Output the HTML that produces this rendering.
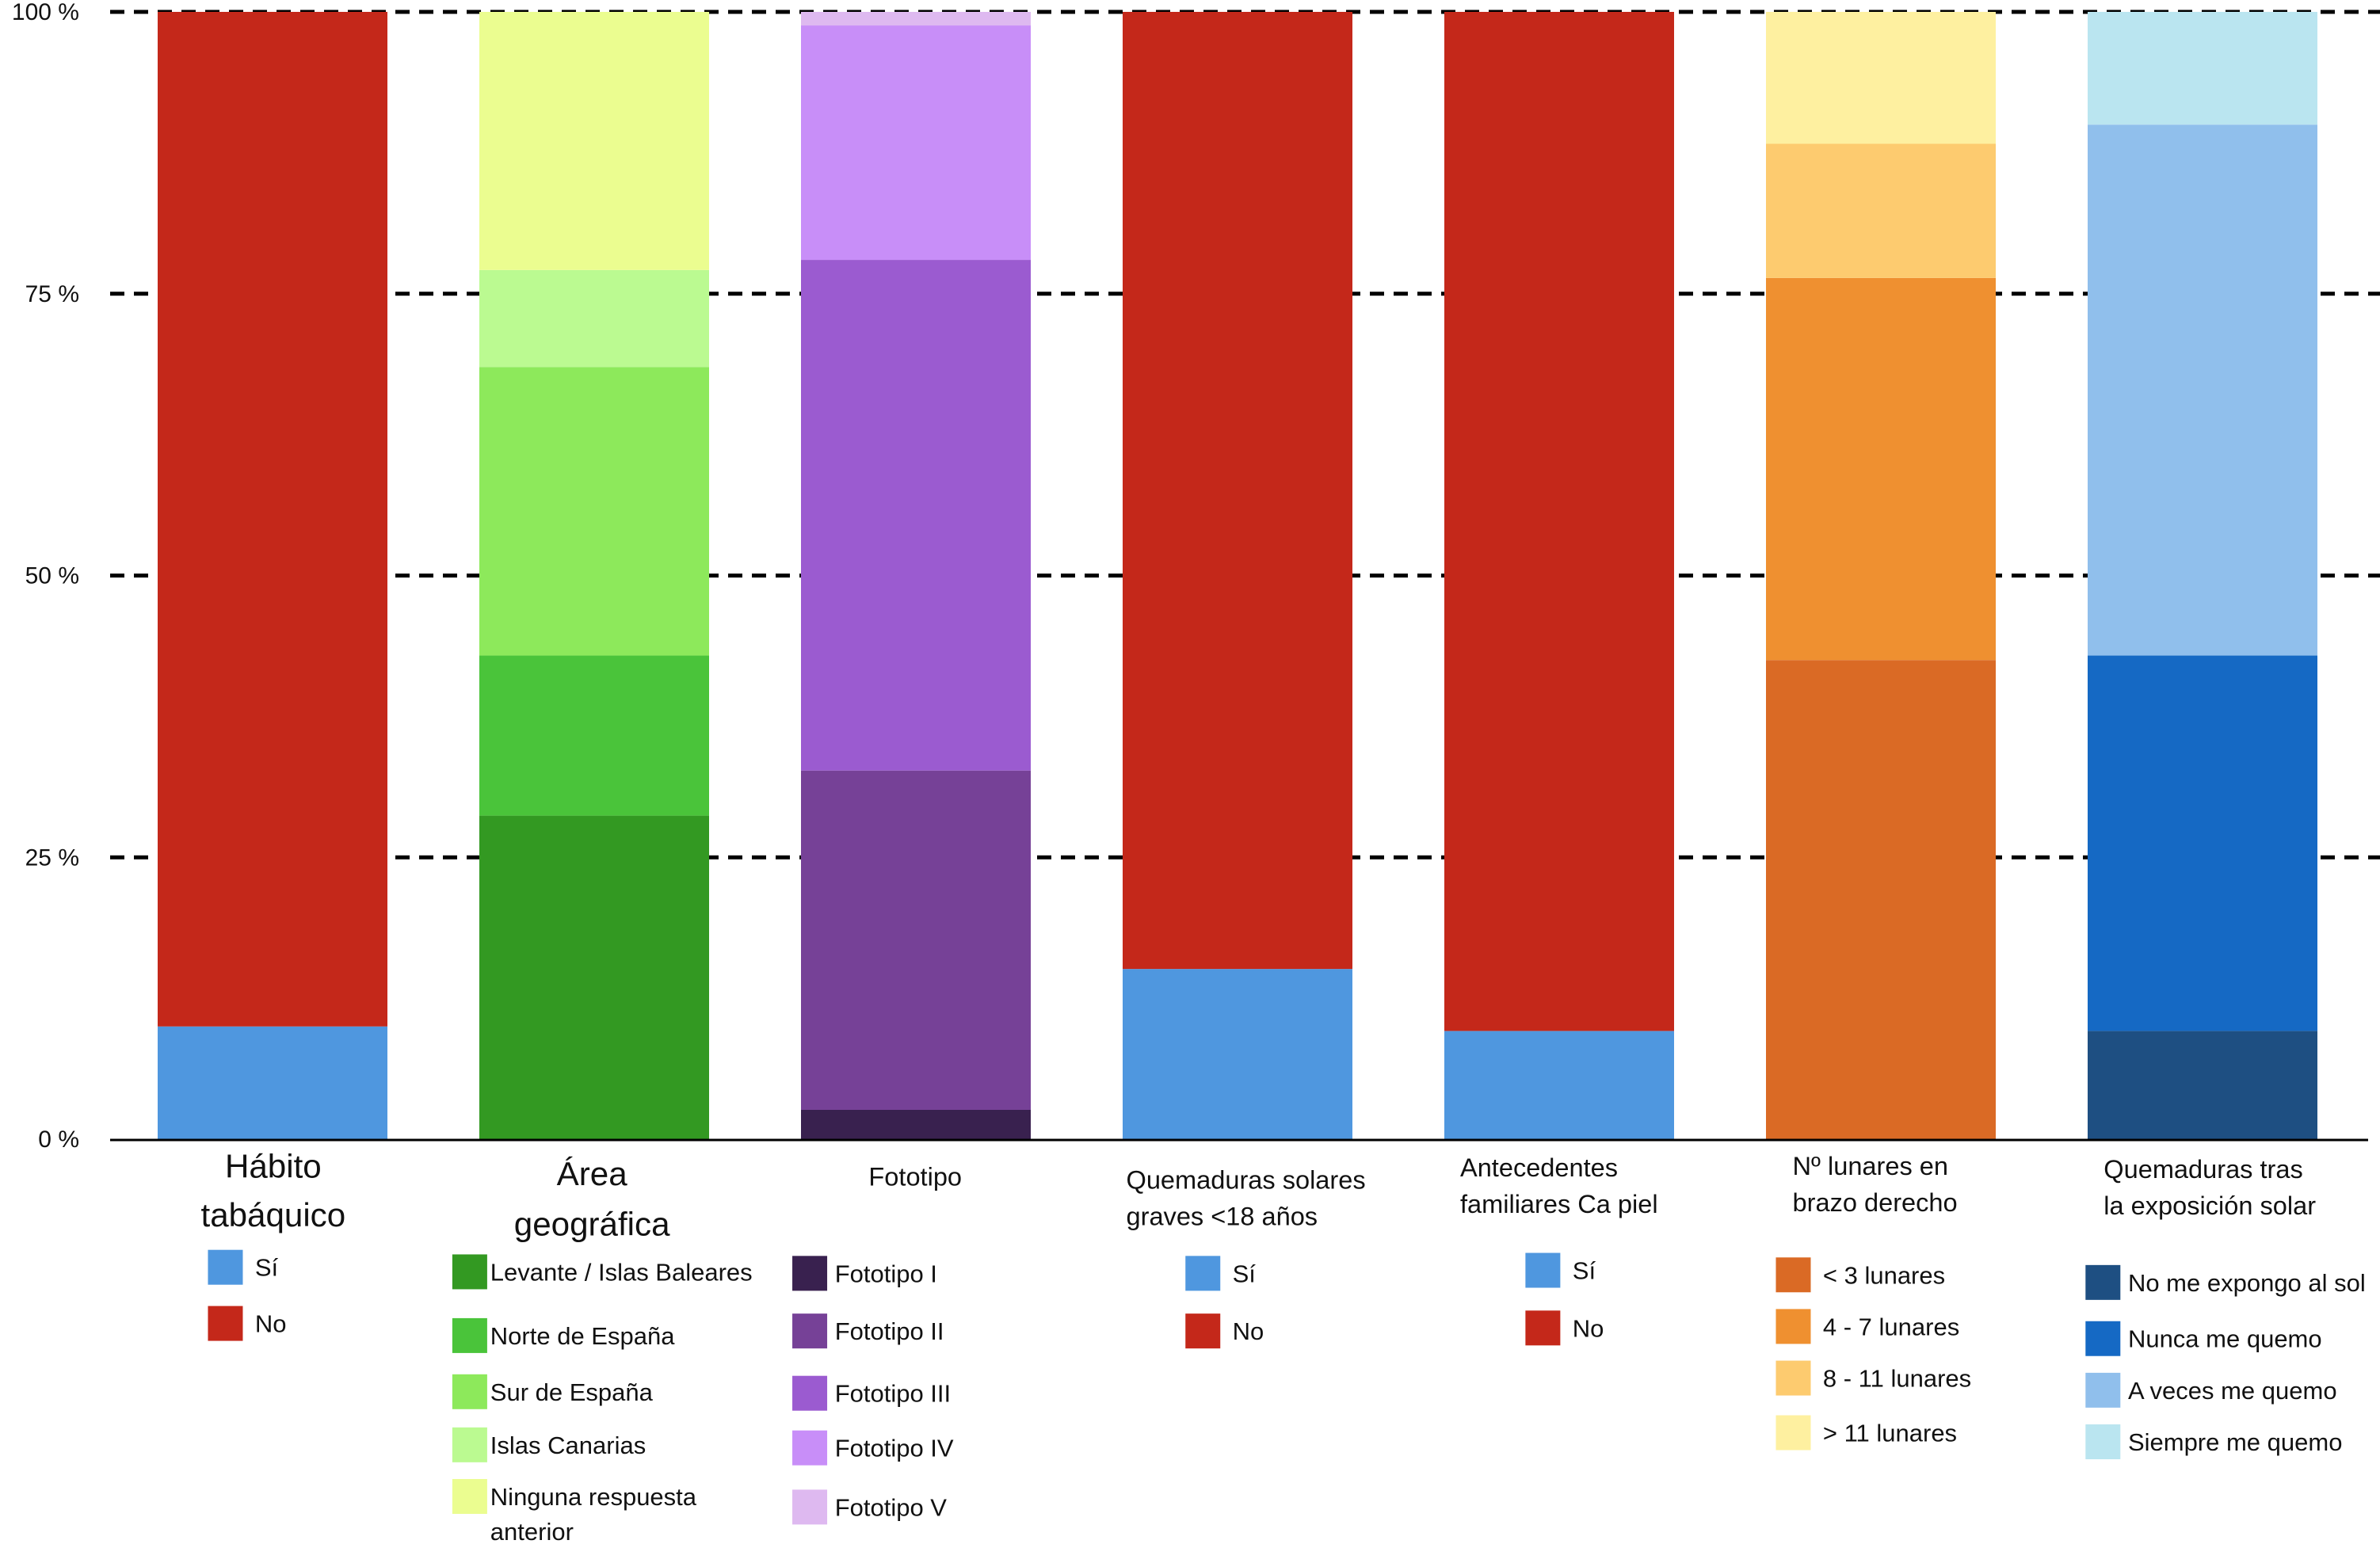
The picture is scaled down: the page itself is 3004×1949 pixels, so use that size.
<!DOCTYPE html>
<html><head><meta charset="utf-8"><style>
html,body{margin:0;padding:0;background:#fff;}
svg{display:block;}
text{font-family:"Liberation Sans Narrow","Liberation Sans",sans-serif;fill:#111;}
</style></head><body>
<svg id="chart" width="3004" height="1949" viewBox="0 0 3004 1949" xmlns="http://www.w3.org/2000/svg"></svg>
<script>
const categories = ["Hábito tabáquico","Área geográfica","Fototipo","Quemaduras solares graves <18 años","Antecedentes familiares Ca piel","Nº lunares en brazo derecho","Quemaduras tras la exposición solar"];
const seriesNames = [
  ["Sí","No"],
  ["Levante / Islas Baleares","Norte de España","Sur de España","Islas Canarias","Ninguna respuesta anterior"],
  ["Fototipo I","Fototipo II","Fototipo III","Fototipo IV","Fototipo V"],
  ["Sí","No"],
  ["Sí","No"],
  ["< 3 lunares","4 - 7 lunares","8 - 11 lunares","> 11 lunares"],
  ["No me expongo al sol","Nunca me quemo","A veces me quemo","Siempre me quemo"]
];
const seriesValues = [
  [10.0,90.0],
  [28.7,14.2,25.6,8.6,22.9],
  [2.6,30.1,45.3,20.8,1.2],
  [15.1,84.9],
  [9.6,90.4],
  [42.5,33.9,11.9,11.7],
  [9.6,33.3,47.1,10.0]
];
const seriesColors = [
  ["#4F97DF","#C4281A"],
  ["#339922","#4AC43A","#8DE95B","#BBFA91","#EBFD90"],
  ["#39214F","#764197","#9B5BD0","#C88EF8","#DEB9F0"],
  ["#4F97DF","#C4281A"],
  ["#4F97DF","#C4281A"],
  ["#DA6A25","#EF9030","#FDCB6F","#FEF0A0"],
  ["#1E4F82","#1569C4","#90BFEC","#BAE5F0"]
];
const yTicks = [0,25,50,75,100];
const yTickLabels = ["0 %","25 %","50 %","75 %","100 %"];

const NS="http://www.w3.org/2000/svg";
const svg=document.getElementById('chart');
const S=1.9158;
const Y0=1438, Y100=15, X0=139, X1=2989;
const y=v=>Y0-(Y0-Y100)*v/100;
const barX=i=>199+406*i;
const BW=290;
function mk(tag,attrs,parent){const e=document.createElementNS(NS,tag);for(const k in attrs)e.setAttribute(k,attrs[k]);(parent||svg).appendChild(e);return e;}

// gridlines
yTicks.forEach((t,i)=>{
  if(t>0){
    const l=mk('line',{x1:X0,x2:3004,y1:y(t),y2:y(t),stroke:'#000','stroke-width':5,'stroke-dasharray':'18 12'});
    
    
  }
  const tx=mk('text',{x:100,y:y(t)+10,'text-anchor':'end','font-size':30,'font-family':'Liberation Sans, sans-serif'});
  tx.textContent=yTickLabels[i];
  
  
});

// bars
seriesValues.forEach((vals,i)=>{
  let cum=0;
  vals.forEach((v,j)=>{
    const r=mk('rect',{x:barX(i),y:y(cum+v),width:BW,height:y(cum)-y(cum+v),fill:seriesColors[i][j]});
    
    
    cum+=v;
  });
});
const ax=mk('line',{x1:X0,x2:X1,y1:Y0+1,y2:Y0+1,stroke:'#000','stroke-width':3});



// category labels (display coords scaled by S)
const catLayout=[
  {x:180,anchor:'middle',ys:[768,800],fs:22,lines:["Hábito","tabáquico"],wide:true},
  {x:390,anchor:'middle',ys:[773,806],fs:22,lines:["Área","geográfica"],wide:true},
  {x:603,anchor:'middle',ys:[775],fs:17,lines:["Fototipo"]},
  {x:742,anchor:'start',ys:[777,801],fs:17,lines:["Quemaduras solares","graves <18 años"]},
  {x:962,anchor:'start',ys:[769,793],fs:17,lines:["Antecedentes","familiares Ca piel"]},
  {x:1181,anchor:'start',ys:[768,792],fs:17,lines:["Nº lunares en","brazo derecho"]},
  {x:1386,anchor:'start',ys:[770,794],fs:17,lines:["Quemaduras tras","la exposición solar"]}
];
catLayout.forEach((c,i)=>{
  c.lines.forEach((ln,k)=>{
    const t=mk('text',{x:c.x*S,y:c.ys[k]*S+c.fs*S*0.36,'text-anchor':c.anchor,'font-size':c.fs*S});
    if(c.wide)t.setAttribute('font-family','Liberation Sans, sans-serif');
    t.textContent=ln;
    
    
  });
});

// legends
const legLayout=[
  {sx:137,tx:168,ys:[835,872]},
  {sx:298,tx:323,ys:[838,880,917,952,986]},
  {sx:522,tx:550,ys:[839,877,918,954,993]},
  {sx:781,tx:812,ys:[839,877]},
  {sx:1005,tx:1036,ys:[837,875]},
  {sx:1170,tx:1201,ys:[840,874,908,944]},
  {sx:1374,tx:1402,ys:[845,882,916,950]}
];
legLayout.forEach((L,i)=>{
  seriesNames[i].forEach((nm,j)=>{
    const cy=L.ys[j]*S;
    const r=mk('rect',{x:L.sx*S,y:cy-22,width:44,height:44,fill:seriesColors[i][j]});
    
    
    const parts = nm==="Ninguna respuesta anterior" ? ["Ninguna respuesta","anterior"] : [nm];
    parts.forEach((p,k)=>{
      const t=mk('text',{x:L.tx*S,y:cy+11+k*44,'font-size':31});
      t.textContent=p;
      
      
    });
  });
});
</script>
</body></html>
